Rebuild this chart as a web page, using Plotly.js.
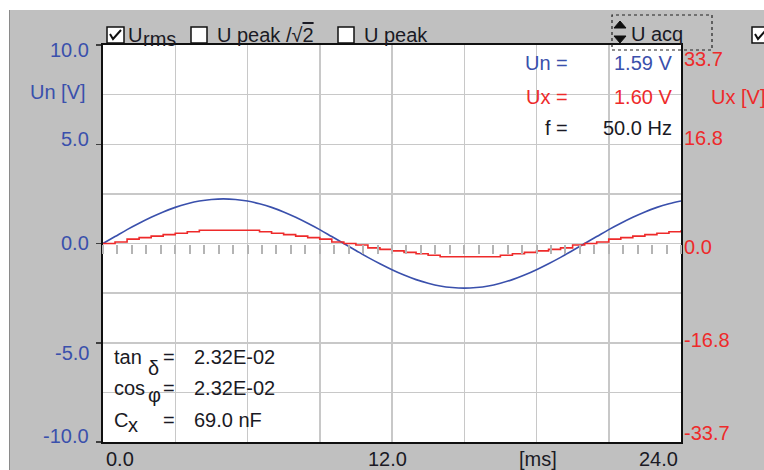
<!DOCTYPE html>
<html>
<head>
<meta charset="utf-8">
<script src="https://cdn.plot.ly/plotly-3.0.1.min.js"></script>
<style>
html,body{margin:0;padding:0;background:#ffffff;width:764px;height:470px;overflow:hidden;}
#chart{position:absolute;left:9px;top:10px;width:754px;height:460px;border-left:1px solid #8a8a8a;}
</style>
</head>
<body>
<div id="chart"></div>
<script>
// ---- data ----
const timeMs = [0,0.5,1,1.5,2,2.5,3,3.5,4,4.5,5,5.5,6,6.5,7,7.5,8,8.5,9,9.5,10,10.5,11,11.5,12,12.5,13,13.5,14,14.5,15,15.5,16,16.5,17,17.5,18,18.5,19,19.5,20,20.5,21,21.5,22,22.5,23,23.5,24];
const unVolts = [0,0.35,0.70,1.02,1.32,1.59,1.82,2.00,2.14,2.22,2.25,2.22,2.14,2.00,1.82,1.59,1.32,1.02,0.70,0.35,0,-0.35,-0.70,-1.02,-1.32,-1.59,-1.82,-2.00,-2.14,-2.22,-2.25,-2.22,-2.14,-2.00,-1.82,-1.59,-1.32,-1.02,-0.70,-0.35,0,0.35,0.70,1.02,1.32,1.59,1.82,2.00,2.14];
const uxVolts = [0,0.25,0.75,1.0,1.25,1.5,1.75,2.0,2.25,2.25,2.25,2.25,2.25,2.0,1.75,1.5,1.25,1.0,0.75,0.25,0,-0.25,-0.75,-1.0,-1.25,-1.5,-1.75,-2.0,-2.25,-2.25,-2.25,-2.25,-2.25,-2.0,-1.75,-1.5,-1.25,-1.0,-0.75,-0.25,0,0.25,0.75,1.0,1.25,1.5,1.75,2.0,2.25];

const xGridVals = [0,3,6,9,12,15,18,21,24];
const xTickVals = [0,12,18,24];
const xTickText = ['0.0','12.0','[ms]','24.0'];
const leftTickVals = [10,5,0,-5,-10];
const leftTickText = ['10.0','5.0','0.0','-5.0','-10.0'];
const rightTickVals = [33.7,16.8,0,-16.8,-33.7];
const rightTickText = ['33.7','16.8','0.0','-16.8','-33.7'];
const readoutLabels = ['Un =','Ux =','f ='];
const readoutValues = ['1.59 V','1.60 V','50.0 Hz'];
const lossLabels = ['tan','cos','C'];
const lossSubs = ['δ','φ','x'];
const lossValues = ['2.32E-02','2.32E-02','69.0 nF'];
const minorTickVals = [];
for (let i = 0; i <= 40; i++) minorTickVals.push(+(i*0.6).toFixed(2));

// ---- styles / positions ----
const BLUE = '#3a50ac', RED = '#ee2a2a', INK = '#1a1a24', GRID = '#c8c8c8';
const FONT = 'Liberation Sans, Arial, sans-serif';
const FS = 20;
const leftShift = [-5,5,1,-10,6];
const rightShift = [-14,6.5,-3.5,2.5,9];
const xShift = [3,-5,1.5,-3];
const xAnchor = ['left','center','center','right'];
const readoutColors = [BLUE, RED, INK];
const readoutY = [63,97,128];
const lossY = [357,388,420];
const subOff = [[148,368],[148,395],[128,425]];

// page px -> paper coords (plot area: x 103..681, y 45..442)
const X = px => (px - 103) / 578;
const Y = py => (442 - py) / 397;

function ann(text, x, y, o) {
  return Object.assign({text: text, x: x, y: y, xref: 'paper', yref: 'paper',
    showarrow: false, borderpad: 0, borderwidth: 0,
    xanchor: 'left', yanchor: 'middle',
    font: {family: FONT, size: FS, color: INK}}, o || {});
}

const annotations = [];
leftTickVals.forEach((v, i) => annotations.push(ann(leftTickText[i], X(89), v,
  {yref: 'y', xanchor: 'right', yshift: leftShift[i], font: {family: FONT, size: FS, color: BLUE}})));
annotations.push(ann('Un [V]', X(86), Y(92), {xanchor: 'right', font: {family: FONT, size: FS, color: BLUE}}));
rightTickVals.forEach((v, i) => annotations.push(ann(rightTickText[i], X(684), v,
  {yref: 'y2', yshift: rightShift[i], font: {family: FONT, size: FS, color: RED}})));
annotations.push(ann('Ux [V]', X(711), Y(97), {font: {family: FONT, size: FS, color: RED}}));
xTickVals.forEach((v, i) => annotations.push(ann(xTickText[i], v, Y(459),
  {xref: 'x', xanchor: xAnchor[i], xshift: xShift[i]})));
readoutLabels.forEach((t, i) => {
  annotations.push(ann(t, X(568), Y(readoutY[i]), {xanchor: 'right', font: {family: FONT, size: FS, color: readoutColors[i]}}));
  annotations.push(ann(readoutValues[i], X(672), Y(readoutY[i]), {xanchor: 'right', font: {family: FONT, size: FS, color: readoutColors[i]}}));
});
lossLabels.forEach((t, i) => {
  annotations.push(ann(t, X(114), Y(lossY[i])));
  annotations.push(ann(lossSubs[i], X(subOff[i][0]), Y(subOff[i][1])));
  annotations.push(ann('=', X(163), Y(lossY[i])));
  annotations.push(ann(lossValues[i], X(194), Y(lossY[i])));
});
// top control bar
annotations.push(ann('U', X(128), Y(35)));
annotations.push(ann('rms', X(143), Y(39)));
annotations.push(ann('U peak /√<span style="text-decoration:overline">2</span>', X(217), Y(35)));
annotations.push(ann('U peak', X(364), Y(35)));
annotations.push(ann('U acq', X(631), Y(34)));

function rect(a, b, c, d, o) {
  return Object.assign({type: 'rect', xref: 'paper', yref: 'paper', x0: X(a), x1: X(b), y0: Y(d), y1: Y(c),
    line: {color: '#101010', width: 1.5}, fillcolor: '#ffffff'}, o || {});
}
function path(pts, o) {
  const d = pts.map((p, i) => (i ? 'L' : 'M') + X(p[0]) + ',' + Y(p[1])).join(' ') + (o && o.close ? ' Z' : '');
  return {type: 'path', xref: 'paper', yref: 'paper', path: d,
    line: {color: '#101010', width: (o && o.w) || 2}, fillcolor: (o && o.fill) || 'rgba(0,0,0,0)'};
}
const shapes = [
  rect(107, 124, 27, 43), path([[110,34],[113,39],[121,30]]),
  rect(191, 207, 27, 43),
  rect(338, 354, 27, 43),
  rect(752, 769, 27, 43), path([[755,34],[758,39],[766,30]]),
  rect(612, 712, 15, 50, {line: {color: '#202020', width: 1.2, dash: 'dot'}, fillcolor: 'rgba(0,0,0,0)'}),
  path([[614,28],[620,21],[626,28]], {close: true, fill: '#101010', w: 1}),
  path([[614,36],[620,43],[626,36]], {close: true, fill: '#101010', w: 1})
];

const traces = [
  {x: timeMs, y: unVolts, type: 'scatter', mode: 'lines', name: 'Un', yaxis: 'y',
   line: {color: BLUE, width: 1.6, shape: 'spline'}, hoverinfo: 'skip'},
  {x: timeMs, y: uxVolts, type: 'scatter', mode: 'lines', name: 'Ux', yaxis: 'y2',
   line: {color: RED, width: 1.6, shape: 'hv'}, hoverinfo: 'skip'},
  {x: [], y: [], type: 'scatter', mode: 'lines', xaxis: 'x2', yaxis: 'y', showlegend: false, hoverinfo: 'skip'}
];

const layout = {
  width: 754, height: 460,
  margin: {l: 93, r: 83, t: 35, b: 28, pad: 0},
  paper_bgcolor: '#c0c0c0', plot_bgcolor: '#ffffff',
  showlegend: false,
  font: {family: FONT, size: FS, color: INK},
  xaxis: {range: [0, 24], tickvals: xGridVals, showticklabels: false, ticks: '',
    showgrid: true, gridcolor: GRID, gridwidth: 1.5, zeroline: false,
    showline: true, linecolor: '#101010', linewidth: 2, mirror: true, fixedrange: true},
  xaxis2: {range: [0, 24], overlaying: 'x', anchor: 'free', position: 0.5, side: 'bottom',
    tickvals: minorTickVals, ticks: 'outside', ticklen: 9, tickwidth: 2, tickcolor: '#b4b4b4',
    showticklabels: false, showgrid: false, zeroline: false, showline: false, fixedrange: true},
  yaxis: {range: [-10, 10], tickvals: leftTickVals, showticklabels: false,
    ticks: 'outside', ticklen: 5, tickwidth: 1.5, tickcolor: '#404040',
    showgrid: true, gridcolor: GRID, gridwidth: 1.5, zeroline: false,
    minor: {tickvals: [-7.5, -2.5, 2.5, 7.5], showgrid: true, gridcolor: GRID, gridwidth: 1.5, ticks: ''},
    showline: true, linecolor: '#101010', linewidth: 2, mirror: true, fixedrange: true},
  yaxis2: {range: [-33.7, 33.7], overlaying: 'y', side: 'right', showticklabels: false,
    ticks: '', showgrid: false, zeroline: false, showline: false, fixedrange: true},
  annotations: annotations,
  shapes: shapes
};

Plotly.newPlot('chart', traces, layout, {staticPlot: true, displayModeBar: false});
</script>
</body>
</html>
